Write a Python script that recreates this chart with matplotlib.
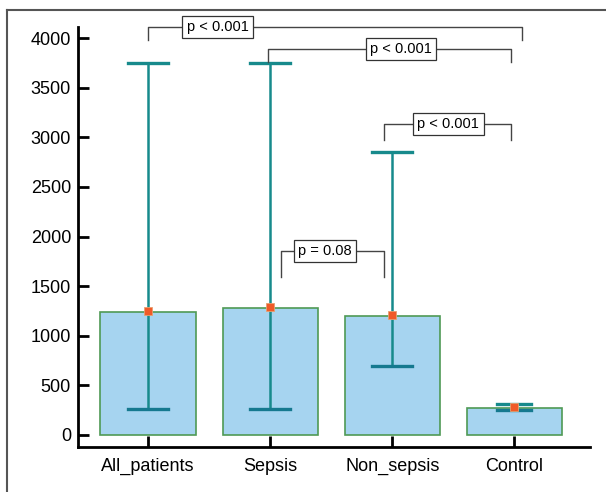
import matplotlib.pyplot as plt
from matplotlib.lines import Line2D

plt.rcParams['font.family'] = ['Liberation Sans', 'DejaVu Sans']

# data
groups = ['All_patients', 'Sepsis', 'Non_sepsis', 'Control']
bar_vals = [1240, 1275, 1195, 270]
means = [1250, 1285, 1210, 280]
low = [260, 260, 700, 250]
high = [3750, 3750, 2850, 310]

# comparison brackets: x1, x2, top, drop, label, label x
brackets = [
    (0.0, 3.06, 4111, 3980, 'p < 0.001', 0.57),
    (0.98, 2.97, 3889, 3758, 'p < 0.001', 2.07),
    (1.93, 2.975, 3134, 2972, 'p < 0.001', 2.46),
    (1.09, 1.93, 1854, 1592, 'p = 0.08', 1.45),
]

fig = plt.figure(figsize=(6.06, 4.92), dpi=100)
ax = fig.add_axes([0.1287, 0.0915, 0.845, 0.8535])

x = list(range(len(groups)))
ax.bar(x, bar_vals, width=0.78, color='#a6d4f0', edgecolor='#4f9a55', linewidth=1.2, zorder=2)

teal = '#178a8c'
for i in x:
    cw = 0.28 if high[i] - low[i] < 200 else 0.33
    ax.plot([i, i], [low[i], high[i]], color=teal, lw=1.8, zorder=3)
    ax.plot([i - cw / 2, i + cw / 2], [low[i], low[i]], color='#15798f', lw=2.4, zorder=3)
    ax.plot([i - cw / 2, i + cw / 2], [high[i], high[i]], color=teal, lw=2.4, zorder=3)
ax.plot(x, means, 's', color='#f05a28', markersize=6, markeredgecolor='#e8a070', markeredgewidth=0.6, zorder=4, ls='none')

for x1, x2, top, drop, label, lx in brackets:
    ax.plot([x1, x1, x2, x2], [drop, top, top, drop], color='#444444', lw=1.0, clip_on=False, zorder=5)
    ax.text(lx, top, label, ha='center', va='center', fontsize=10.5, zorder=6,
            bbox=dict(boxstyle='square,pad=0.3', fc='white', ec='#333333', lw=0.9), clip_on=False)

ax.set_xlim(-0.574, 3.62)
ax.set_ylim(-121, 4111)
ax.set_yticks([0, 500, 1000, 1500, 2000, 2500, 3000, 3500, 4000])
ax.set_xticks(x)
ax.set_xticklabels(groups)
ax.tick_params(axis='y', direction='in', length=8, width=2, labelsize=13, pad=5)
ax.tick_params(axis='x', direction='in', length=8, width=2, labelsize=13, pad=8)
for s in ['top', 'right']:
    ax.spines[s].set_visible(False)
for s in ['left', 'bottom']:
    ax.spines[s].set_linewidth(2)

# outer frame (left and top edges)
fig.add_artist(Line2D([0.0116, 0.0116], [0, 0.98], color='#555555', lw=1.5))
fig.add_artist(Line2D([0.0116, 1.0], [0.98, 0.98], color='#555555', lw=1.5))

fig.savefig('out.png', dpi=100)
